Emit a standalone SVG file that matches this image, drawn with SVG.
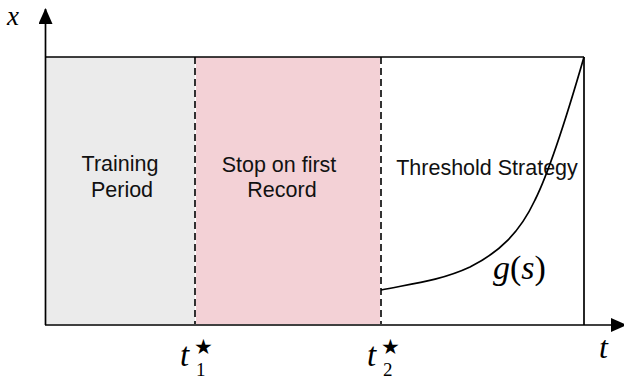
<svg xmlns="http://www.w3.org/2000/svg" width="624" height="379" viewBox="0 0 624 379">
<style>
.lbl{font-family:"Liberation Sans",Arial,sans-serif;font-size:21.5px;fill:#111;text-anchor:middle}
.math{font-family:"Liberation Serif","Times New Roman",serif;font-style:italic;fill:#000}
.up{font-style:normal}
.star{font-family:"DejaVu Sans",sans-serif;font-style:normal}
.dash{stroke:#000;stroke-width:1.6;stroke-dasharray:7,4;fill:none}
.ln{stroke:#000;stroke-width:1.7;fill:none}
</style>
<defs>
<marker id="ah" viewBox="0 0 16 14" refX="15" refY="7" markerWidth="16" markerHeight="14" markerUnits="userSpaceOnUse" orient="auto">
<path d="M0,0 L16,7 L0,14 Z" fill="#000"/>
</marker>
</defs>
<g id="training">
<rect x="46" y="57" width="149" height="267" fill="#ebebeb"/>
<text class="lbl" x="120" y="171">Training</text>
<text class="lbl" x="122" y="197">Period</text>
</g>
<g id="stop">
<rect x="196" y="57" width="184" height="267" fill="#f3d1d6"/>
<text class="lbl" x="279" y="172">Stop on first</text>
<text class="lbl" x="282" y="197">Record</text>
</g>
<g id="threshold">
<text class="lbl" x="487" y="175">Threshold Strategy</text>
<text class="math" x="493" y="279" font-size="34">g<tspan class="up">(</tspan>s<tspan class="up">)</tspan></text>
</g>
<g id="frame">
<line class="ln" x1="45" y1="57" x2="584" y2="57"/>
<line class="ln" x1="584" y1="57" x2="584" y2="325"/>
</g>
<g id="connectors">
<line class="dash" x1="195" y1="57" x2="195" y2="324"/>
<line class="dash" x1="381" y1="57" x2="381" y2="324"/>
<path class="ln" d="M381,290 C410,284 440,281 470,267 C500,252 520,232 535,200 C545,180 560,140 584,57"/>
<line class="ln" x1="45.5" y1="325" x2="45.5" y2="9" marker-end="url(#ah)"/>
<line class="ln" x1="45" y1="325" x2="626" y2="325" marker-end="url(#ah)"/>
</g>
<g id="axis-labels">
<text class="math" x="7" y="25" font-size="27">x</text>
<text class="math" x="599" y="358" font-size="32">t</text>
<text class="math" x="180" y="366" font-size="33">t<tspan class="star" x="194" y="354" font-size="21">★</tspan><tspan class="up" x="196" y="376" font-size="19">1</tspan></text>
<text class="math" x="367" y="366" font-size="33">t<tspan class="star" x="381" y="354" font-size="21">★</tspan><tspan class="up" x="383" y="376" font-size="19">2</tspan></text>
</g>
</svg>
